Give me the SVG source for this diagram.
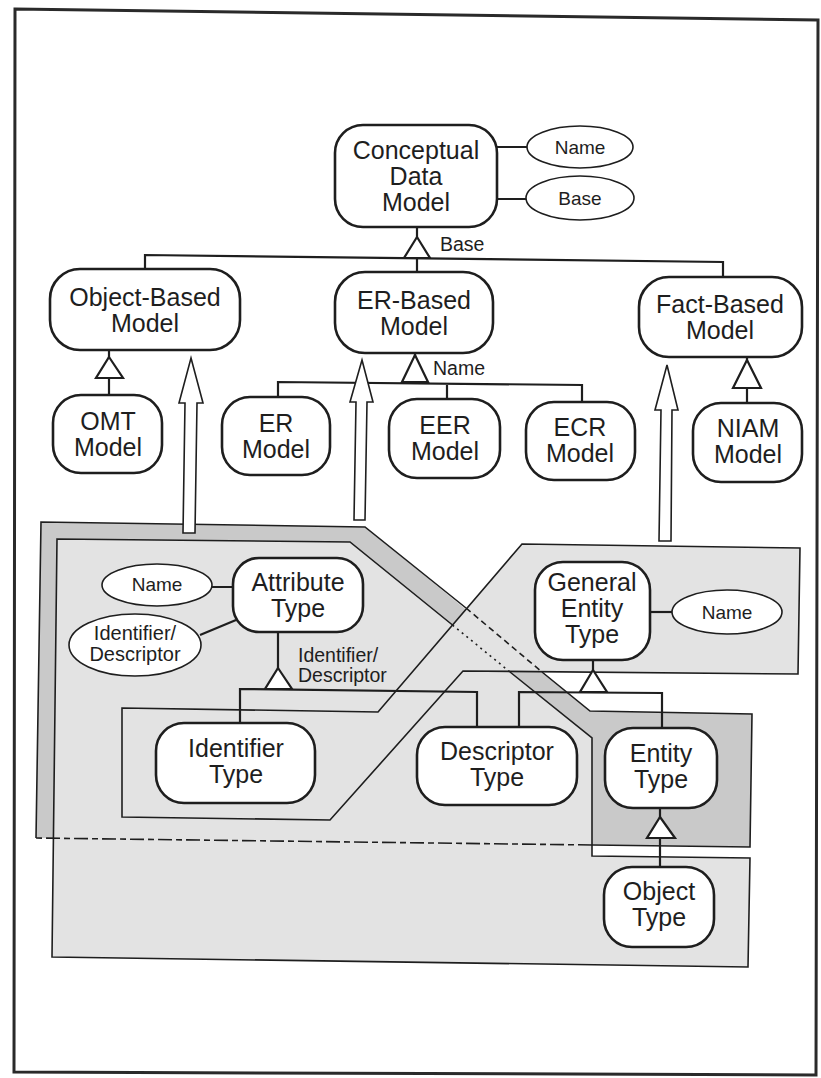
<svg xmlns="http://www.w3.org/2000/svg" width="821" height="1078" viewBox="0 0 821 1078">
<style>
.node rect{fill:#fff;stroke:#1e1e1e;stroke-width:2.6}
.node ellipse{fill:#fff;stroke:#1e1e1e;stroke-width:1.6}
.t{font-family:"Liberation Sans",Arial,sans-serif;font-size:25px;fill:#1e1e1e;text-anchor:middle}
.s{font-family:"Liberation Sans",Arial,sans-serif;font-size:19px;fill:#1e1e1e;text-anchor:middle}
.sl{font-family:"Liberation Sans",Arial,sans-serif;font-size:19.5px;fill:#1e1e1e}
.ln{fill:none;stroke:#1e1e1e;stroke-width:2.2}
.tri{fill:#fff;stroke:#1e1e1e;stroke-width:2.2;stroke-linejoin:miter}
.arr{fill:#fff;stroke:#1e1e1e;stroke-width:1.6}
.reg{fill:none;stroke:#1e1e1e;stroke-width:1.6}
</style>
<rect width="821" height="1078" fill="#fff"/>
<!-- page frame -->
<path d="M15,9 L818,20 L816,1075 L14,1072 Z" fill="none" stroke="#2a2a2a" stroke-width="3"/>

<!-- regions -->
<g id="regions">
  <polygon points="41,522 365,527 590,711 752,714 750,847 592,845 36,838" fill="#c9c9c9"/>
  <polygon points="57,539 350,542 592,738 592,856 750,858 748,967 52,957" fill="#e3e3e3"/>
  <polygon points="122,708 378,712 522,544 800,548 798,674 463,671 330,820 122,817" fill="#e3e3e3"/>
  <!-- outer region outline -->
  <path class="reg" d="M592,845 L750,847 L752,714 L590,711 L542,672"/>
  <path class="reg" d="M466,608 L365,527 L41,522 L36,838"/>
  <path class="reg" d="M466,608 L542,672" stroke-dasharray="6 4"/>
  <path class="reg" d="M592,845 L36,838" stroke-dasharray="14 4 6 4"/>
  <!-- inner region outline -->
  <path class="reg" d="M452.5,625 L350,542 L57,539 L52,957 L748,967 L750,858 L592,856 L592,738 L510,672"/>
  <path class="reg" d="M452.5,625 L510,672" stroke-dasharray="2 4"/>
  <!-- fact region outline -->
  <polygon class="reg" points="122,708 378,712 522,544 800,548 798,674 463,671 330,820 122,817"/>
</g>

<!-- connectors -->
<g id="connectors">
  <path class="ln" d="M145,269 L145,255 L723,262 L723,277"/>
  <path class="ln" d="M417,227 L417,238 M417,258 L417,272"/>
  <polygon class="tri" points="417,237 430,258 404,258"/>
  <path class="ln" d="M497,147 L527,147 M497,199 L526,199"/>
  <path class="ln" d="M109,350 L109,358 M109,378 L109,395"/>
  <polygon class="tri" points="109,357 123,378 96,378"/>
  <path class="ln" d="M415,353 L415,356 M278,397 L278,382 L582,385 L582,402 M447,384 L447,399"/>
  <polygon class="tri" points="415,355 428,382 402,382"/>
  <path class="ln" d="M747,357 L747,361 M747,388 L747,403"/>
  <polygon class="tri" points="747,360 761,388 733,388"/>
  <path class="ln" d="M278,632 L278,669 M240,723 L240,689 L477,692 L477,727"/>
  <polygon class="tri" points="278,668 292,689 265,689"/>
  <path class="ln" d="M212,587 L233,587 M200,635 L236,620"/>
  <path class="ln" d="M593,660 L593,671 M519,727 L519,692 L662,693 L662,728"/>
  <polygon class="tri" points="593,670 607,692 580,692"/>
  <path class="ln" d="M650,612 L672,612"/>
  <path class="ln" d="M660,808 L660,818 M660,838 L660,867"/>
  <polygon class="tri" points="660,817 675,838 647,838"/>
  <!-- derivation arrows -->
  <polygon class="arr" points="191,358 203,403 197,403 195,533 183,533 185,403 179,403"/>
  <polygon class="arr" points="362,360 373,402 367,402 365,520 354,520 356,402 350,402"/>
  <polygon class="arr" points="667,365 678,410 672,410 671,541 659,541 661,410 655,410"/>
  <text class="sl" x="440" y="251">Base</text>
  <text class="sl" x="433" y="375">Name</text>
  <text class="sl" x="298" y="662">Identifier/</text>
  <text class="sl" x="298" y="682">Descriptor</text>
</g>

<!-- nodes -->
<g id="cdm" class="node">
  <rect x="335" y="125" width="162" height="102" rx="28"/>
  <text class="t" x="416" y="159">Conceptual</text>
  <text class="t" x="416" y="185">Data</text>
  <text class="t" x="416" y="211">Model</text>
</g>
<g id="cdm-name" class="node"><ellipse cx="580" cy="147" rx="53" ry="21"/><text class="s" x="580" y="154">Name</text></g>
<g id="cdm-base" class="node"><ellipse cx="580" cy="198" rx="54" ry="22"/><text class="s" x="580" y="205">Base</text></g>

<g id="object-based" class="node">
  <rect x="50" y="269" width="190" height="81" rx="30"/>
  <text class="t" x="145" y="306">Object-Based</text>
  <text class="t" x="145" y="332">Model</text>
</g>
<g id="er-based" class="node">
  <rect x="335" y="272" width="158" height="81" rx="30"/>
  <text class="t" x="414" y="309">ER-Based</text>
  <text class="t" x="414" y="335">Model</text>
</g>
<g id="fact-based" class="node">
  <rect x="639" y="277" width="163" height="80" rx="30"/>
  <text class="t" x="720" y="313">Fact-Based</text>
  <text class="t" x="720" y="339">Model</text>
</g>
<g id="omt" class="node">
  <rect x="53" y="395" width="109" height="78" rx="28"/>
  <text class="t" x="108" y="430">OMT</text>
  <text class="t" x="108" y="456">Model</text>
</g>
<g id="er" class="node">
  <rect x="222" y="397" width="108" height="78" rx="28"/>
  <text class="t" x="276" y="432">ER</text>
  <text class="t" x="276" y="458">Model</text>
</g>
<g id="eer" class="node">
  <rect x="389" y="399" width="111" height="79" rx="28"/>
  <text class="t" x="445" y="434">EER</text>
  <text class="t" x="445" y="460">Model</text>
</g>
<g id="ecr" class="node">
  <rect x="526" y="402" width="109" height="78" rx="28"/>
  <text class="t" x="580" y="436">ECR</text>
  <text class="t" x="580" y="462">Model</text>
</g>
<g id="niam" class="node">
  <rect x="693" y="403" width="109" height="79" rx="28"/>
  <text class="t" x="748" y="437">NIAM</text>
  <text class="t" x="748" y="463">Model</text>
</g>

<g id="attribute-type" class="node">
  <rect x="233" y="558" width="130" height="74" rx="26"/>
  <text class="t" x="298" y="591">Attribute</text>
  <text class="t" x="298" y="617">Type</text>
</g>
<g id="attr-name" class="node"><ellipse cx="157" cy="585" rx="55" ry="21"/><text class="s" x="157" y="591">Name</text></g>
<g id="attr-iddesc" class="node">
  <ellipse cx="135" cy="645" rx="66" ry="31"/>
  <text class="s" x="135" y="640" style="font-size:20px">Identifier/</text>
  <text class="s" x="135" y="661" style="font-size:20px">Descriptor</text>
</g>
<g id="general-entity-type" class="node">
  <rect x="535" y="562" width="115" height="98" rx="28"/>
  <text class="t" x="592" y="591">General</text>
  <text class="t" x="592" y="617">Entity</text>
  <text class="t" x="592" y="643">Type</text>
</g>
<g id="get-name" class="node"><ellipse cx="727" cy="612" rx="55" ry="22"/><text class="s" x="727" y="619">Name</text></g>
<g id="identifier-type" class="node">
  <rect x="156" y="723" width="159" height="80" rx="28"/>
  <text class="t" x="236" y="757">Identifier</text>
  <text class="t" x="236" y="783">Type</text>
</g>
<g id="descriptor-type" class="node">
  <rect x="417" y="727" width="160" height="78" rx="28"/>
  <text class="t" x="497" y="760">Descriptor</text>
  <text class="t" x="497" y="786">Type</text>
</g>
<g id="entity-type" class="node">
  <rect x="605" y="728" width="112" height="80" rx="28"/>
  <text class="t" x="661" y="762">Entity</text>
  <text class="t" x="661" y="788">Type</text>
</g>
<g id="object-type" class="node">
  <rect x="604" y="867" width="110" height="80" rx="28"/>
  <text class="t" x="659" y="900">Object</text>
  <text class="t" x="659" y="926">Type</text>
</g>
</svg>
